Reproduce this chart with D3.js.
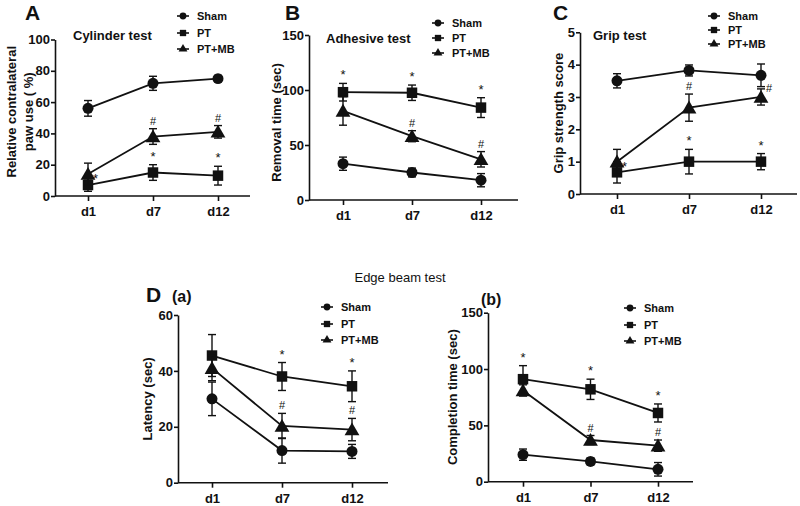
<!DOCTYPE html>
<html><head><meta charset="utf-8">
<script src="https://cdn.jsdelivr.net/npm/d3@7"></script>
<style>
body{margin:0;background:#fff;}
svg text{font-family:"Liberation Sans",Arial,sans-serif;fill:#111;}
</style></head>
<body><svg id="c" width="800" height="506"></svg>
<script>
// ---------- DATA ----------
const days = ["d1", "d7", "d12"];
const seriesNames = ["Sham", "PT", "PT+MB"];

// A: Cylinder test (%)
const cylSham = [56, 72, 75], cylShamErr = [5, 4.5, 2];
const cylPT = [7, 15, 13], cylPTErr = [4, 5, 6];
const cylMB = [14, 38, 41], cylMBErr = [7, 5, 4];
const cylPTSig = ["", "*", "*"], cylMBSig = ["*", "#", "#"];
const cylMBSigPos = ["right", "top", "top"];
const cylTicks = [0, 20, 40, 60, 80, 100];

// B: Adhesive test (sec)
const adhSham = [33, 25, 18], adhShamErr = [6, 4, 6];
const adhPT = [98, 97.5, 84], adhPTErr = [8, 7, 9];
const adhMB = [81, 58, 37], adhMBErr = [13, 5, 7];
const adhPTSig = ["*", "*", "*"], adhMBSig = ["", "#", "#"];
const adhMBSigPos = ["top", "top", "top"];
const adhTicks = [0, 50, 100, 150];

// C: Grip test (score)
const gripSham = [3.5, 3.82, 3.67], gripShamErr = [0.22, 0.17, 0.35];
const gripPT = [0.67, 1.0, 1.0], gripPTErr = [0.33, 0.38, 0.25];
const gripMB = [1.0, 2.67, 3.0], gripMBErr = [0.38, 0.42, 0.25];
const gripPTSig = ["", "*", "*"], gripMBSig = ["*", "#", "#"];
const gripMBSigPos = ["right", "top", "righttop"];
const gripTicks = [0, 1, 2, 3, 4, 5];

// D(a): Edge beam latency (sec)
const latSham = [30, 11.5, 11.2], latShamErr = [6, 4.5, 2.5];
const latPT = [45.5, 38, 34.5], latPTErr = [7.5, 5, 5.5];
const latMB = [41, 20.3, 19], latMBErr = [4.5, 4.5, 4];
const latPTSig = ["", "*", "*"], latMBSig = ["", "#", "#"];
const latMBSigPos = ["top", "top", "top"];
const latTicks = [0, 20, 40, 60];

// D(b): Edge beam completion time (sec)
const compSham = [24, 18, 11], compShamErr = [5, 3, 6];
const compPT = [91, 82, 61], compPTErr = [12, 9, 8];
const compMB = [81, 37, 32], compMBErr = [5, 4, 5];
const compPTSig = ["*", "*", "*"], compMBSig = ["", "#", "#"];
const compMBSigPos = ["top", "top", "top"];
const compTicks = [0, 50, 100, 150];

// ---------- DRAW ----------
const svg = d3.select("#c");
const symbols = [d3.symbolCircle, d3.symbolSquare, d3.symbolTriangle];
const symSize = [95, 110, 95];
const legSize = [36, 40, 34];
const FONT = "'Liberation Sans Narrow', 'Liberation Sans', Arial, sans-serif";

function panel(cfg) {
  const g = svg.append("g");
  const x = d3.scalePoint().domain(days).range([cfg.x1, cfg.x3]);
  const y = d3.scaleLinear().domain([0, cfg.ymax]).range([cfg.yb, cfg.yt]);

  // y axis
  const ya = g.append("g").attr("transform", `translate(${cfg.ax},0)`)
    .call(d3.axisLeft(y).tickValues(cfg.ticks).tickFormat(d3.format("d")).tickSize(4).tickSizeOuter(0).tickPadding(1));
  ya.select(".domain").attr("stroke", "#111").attr("stroke-width", 1.6);
  ya.selectAll(".tick line").attr("stroke", "#111").attr("stroke-width", 1.6);
  ya.selectAll(".tick text").attr("font-size", 13).attr("font-weight", "bold")
    .attr("font-family", FONT).attr("fill", "#111");

  // x axis
  const xa = g.append("g").attr("transform", `translate(0,${cfg.yb})`)
    .call(d3.axisBottom(x).tickSize(5).tickSizeOuter(0).tickPadding(6));
  xa.select(".domain").remove();
  xa.append("line").attr("x1", cfg.ax).attr("x2", cfg.xend).attr("stroke", "#111").attr("stroke-width", 1.6);
  xa.selectAll(".tick line").attr("stroke", "#111").attr("stroke-width", 1.6);
  xa.selectAll(".tick text").attr("font-size", 13).attr("font-weight", "bold")
    .attr("font-family", FONT).attr("fill", "#111");

  // y title
  cfg.ytitle.forEach((t, i) => {
    g.append("text")
      .attr("transform", `translate(${cfg.ytx[i]},${(cfg.yt + cfg.yb) / 2 + (cfg.ytdy || 0)}) rotate(-90)`)
      .attr("text-anchor", "middle").attr("font-size", 13).attr("font-weight", "bold")
      .attr("font-family", FONT).text(t);
  });

  // series
  const line = d3.line().x((d, i) => x(days[i])).y(d => y(d));
  cfg.series.forEach((s, k) => {
    g.append("path").datum(s.v).attr("d", line).attr("fill", "none")
      .attr("stroke", "#111").attr("stroke-width", 1.8);
    s.v.forEach((v, i) => {
      const cx = x(days[i]);
      g.append("line").attr("x1", cx).attr("x2", cx).attr("y1", y(v - s.e[i])).attr("y2", y(v + s.e[i]))
        .attr("stroke", "#111").attr("stroke-width", 1.4);
      [v - s.e[i], v + s.e[i]].forEach(w => {
        g.append("line").attr("x1", cx - 4).attr("x2", cx + 4).attr("y1", y(w)).attr("y2", y(w))
          .attr("stroke", "#111").attr("stroke-width", 1.4);
      });
      g.append("path").attr("d", d3.symbol(symbols[k], symSize[k])())
        .attr("transform", `translate(${cx},${y(v) + (k === 2 ? 1.5 : 0)})`).attr("fill", "#111");
      const sig = s.sig ? s.sig[i] : "";
      if (sig) {
        const pos = s.pos ? s.pos[i] : "top";
        let tx = cx, ty = y(v + s.e[i]) - 4, anchor = "middle";
        if (pos === "right") { tx = cx + 5; ty = y(v) + 9; anchor = "start"; }
        if (pos === "righttop") { tx = cx + 5; ty = y(v + s.e[i]) + 3; anchor = "start"; }
        g.append("text").attr("x", tx).attr("y", ty).attr("text-anchor", anchor)
          .attr("font-size", sig === "*" ? 13 : 11).attr("font-family", "DejaVu Sans, sans-serif").text(sig);
      }
    });
  });

  // legend
  seriesNames.forEach((n, k) => {
    const ly = cfg.legRows[k];
    g.append("line").attr("x1", cfg.legX - 6).attr("x2", cfg.legX + 6).attr("y1", ly).attr("y2", ly)
      .attr("stroke", "#111").attr("stroke-width", 1.6);
    g.append("path").attr("d", d3.symbol(symbols[k], legSize[k])()).attr("transform", `translate(${cfg.legX},${ly})`).attr("fill", "#111");
    g.append("text").attr("x", cfg.legX + 14).attr("y", ly + 3.5).attr("font-size", 11).attr("font-weight", "bold")
      .attr("font-family", FONT).text(n);
  });

  if (cfg.title) {
    g.append("text").attr("x", cfg.titleX).attr("y", cfg.titleY).attr("font-size", 13)
      .attr("font-weight", 600).attr("font-family", "Open Sans, sans-serif").text(cfg.title);
  }
  if (cfg.letter) {
    g.append("text").attr("x", cfg.letterX).attr("y", cfg.letterY).attr("font-size", 21)
      .attr("font-family", "Liberation Sans, Arial").attr("font-weight", "bold").text(cfg.letter);
  }
  if (cfg.sub) {
    g.append("text").attr("x", cfg.subX).attr("y", cfg.subY).attr("font-size", 16)
      .attr("font-weight", "bold").text(cfg.sub);
  }
}

panel({ ax: 55, yt: 39.5, yb: 196, ymax: 100, ticks: cylTicks, x1: 88, x3: 218, xend: 250,
  ytitle: ["Relative contralateral", "paw use ( %)"], ytx: [16, 33], ytdy: -6,
  series: [{ v: cylSham, e: cylShamErr }, { v: cylPT, e: cylPTErr, sig: cylPTSig },
           { v: cylMB, e: cylMBErr, sig: cylMBSig, pos: cylMBSigPos }],
  legX: 183, legRows: [16, 33, 49], title: "Cylinder test", titleX: 73, titleY: 40,
  letter: "A", letterX: 25, letterY: 20 });

panel({ ax: 309, yt: 35, yb: 200, ymax: 150, ticks: adhTicks, x1: 343, x3: 481, xend: 518,
  ytitle: ["Removal time (sec)"], ytx: [281], ytdy: 5,
  series: [{ v: adhSham, e: adhShamErr }, { v: adhPT, e: adhPTErr, sig: adhPTSig },
           { v: adhMB, e: adhMBErr, sig: adhMBSig, pos: adhMBSigPos }],
  legX: 438, legRows: [23, 38, 53], title: "Adhesive test", titleX: 326, titleY: 43,
  letter: "B", letterX: 285, letterY: 20 });

panel({ ax: 580, yt: 32.3, yb: 194, ymax: 5, ticks: gripTicks, x1: 617, x3: 761, xend: 797,
  ytitle: ["Grip strength score"], ytx: [563], ytdy: 0,
  series: [{ v: gripSham, e: gripShamErr }, { v: gripPT, e: gripPTErr, sig: gripPTSig },
           { v: gripMB, e: gripMBErr, sig: gripMBSig, pos: gripMBSigPos }],
  legX: 714, legRows: [16, 30, 44], title: "Grip test", titleX: 593, titleY: 40,
  letter: "C", letterX: 553, letterY: 20 });

panel({ ax: 178, yt: 315, yb: 482.7, ymax: 60, ticks: latTicks, x1: 212, x3: 352, xend: 388,
  ytitle: ["Latency (sec)"], ytx: [152], ytdy: 0,
  series: [{ v: latSham, e: latShamErr }, { v: latPT, e: latPTErr, sig: latPTSig },
           { v: latMB, e: latMBErr, sig: latMBSig, pos: latMBSigPos }],
  legX: 327, legRows: [307, 324, 340],
  letter: "D", letterX: 146, letterY: 302, sub: "(a)", subX: 172, subY: 302 });

panel({ ax: 488, yt: 312.7, yb: 481.7, ymax: 150, ticks: compTicks, x1: 523, x3: 658, xend: 693,
  ytitle: ["Completion time (sec)"], ytx: [457], ytdy: 0,
  series: [{ v: compSham, e: compShamErr }, { v: compPT, e: compPTErr, sig: compPTSig },
           { v: compMB, e: compMBErr, sig: compMBSig, pos: compMBSigPos }],
  legX: 630, legRows: [308, 325, 341],
  sub: "(b)", subX: 481, subY: 305 });

svg.append("text").attr("x", 400).attr("y", 282).attr("text-anchor", "middle")
  .attr("font-size", 13).attr("font-family", "Open Sans, sans-serif").text("Edge beam test");
</script></body></html>
